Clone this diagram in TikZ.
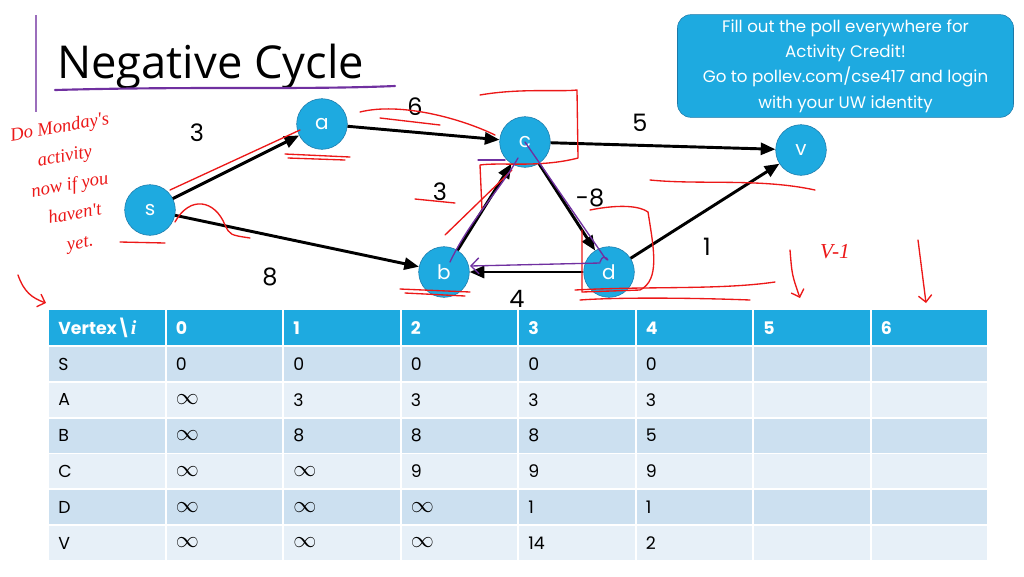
\documentclass[tikz,border=0pt]{standalone}
\usepackage{amsmath}
\usepackage{fontspec}
\setmainfont{Poppins}
\newfontfamily\titlefont{Open Sans}
\newfontfamily\handfont{Liberation Serif}
\usetikzlibrary{arrows.meta}
\definecolor{slideblue}{RGB}{30,170,224}
\definecolor{nodeedge}{RGB}{28,120,168}
\definecolor{rowdark}{RGB}{204,224,240}
\definecolor{rowlight}{RGB}{231,240,248}
\definecolor{inkpurple}{RGB}{112,48,160}
\definecolor{inkred}{RGB}{236,24,24}
\newcommand{\infsym}{{\fontsize{17}{13}\selectfont$\infty$}}

\begin{document}
\begin{tikzpicture}[x=0.75pt,y=-0.75pt,
		vertex/.style = {
			circle, draw=nodeedge, fill=slideblue,
			minimum size=38pt, inner sep=0pt,
			text=white, font=\fontsize{15}{15}\selectfont},
		edge/.style = {line width=2.2pt, -{Triangle[length=11pt,width=9pt]}},
		weight/.style = {font=\fontsize{18}{18}\selectfont},
		cell/.style = {anchor=west, inner sep=0pt, font=\fontsize{13}{13}\selectfont},
		headcell/.style = {cell, text=white, font=\fontsize{13}{13}\selectfont\bfseries},
		ink/.style = {inkred, line width=1pt, line cap=round, line join=round},
		purpleink/.style = {inkpurple, line width=1pt, line cap=round, line join=round}]
		\useasboundingbox (0,0) rectangle (1024,576);
		\fill[white] (0,0) rectangle (1024,576);

		\draw[inkpurple!70, line width=1.4pt] (36,15) -- (36,112);
		\node[anchor=base west, inner sep=0pt, font=\titlefont\fontsize{34}{34}\selectfont] (title) at (57,78) {Negative Cycle};
		\draw[purpleink, line width=1.6pt] (55,90) .. controls (200,86) and (300,90) .. (395,86);

		\node[rounded corners=10pt, draw=nodeedge, fill=slideblue, text=white,
			minimum width=252pt, minimum height=77pt, align=center,
			font=\fontsize{12.5}{19}\selectfont] (poll) at (845.5,66)
			{Fill out the poll everywhere for\\Activity Credit!\\Go to pollev.com/cse417 and login\\with your UW identity};

		\node[vertex] (s) at (150,210) {s};
		\node[vertex] (a) at (322,124) {a};
		\node[vertex] (c) at (525,142) {c};
		\node[vertex] (v) at (801,150) {v};
		\node[vertex] (b) at (444,272) {b};
		\node[vertex] (d) at (609,272) {d};

		\draw[edge] (s) -- (a);
		\draw[edge] (a) -- (c);
		\draw[edge] (c) -- (v);
		\draw[edge] (s) -- (b);
		\draw[edge] (b) -- (c);
		\draw[edge] (c) -- (d);
		\draw[edge] (d) -- (v);
		\draw[edge] (d) -- (b);

		\node[weight] (w-sa) at (197,133) {3};
		\node[weight] (w-ac) at (415,107) {6};
		\node[weight] (w-cv) at (640,123) {5};
		\node[weight] (w-sb) at (270,277) {8};
		\node[weight] (w-bc) at (440,192) {3};
		\node[weight] (w-cd) at (590,198) {-8};
		\node[weight] (w-dv) at (707,247) {1};
		\node[weight] (w-db) at (517,299) {4};

		\foreach \c [count=\i from 0] in {Vertex\textbackslash{\handfont\itshape\bfseries\fontsize{15}{13}\selectfont i},0,1,2,3,4,5,6} {
			\fill[slideblue] (48+\i*117.5+1,310) rectangle (48+\i*117.5+116.5,345);
			\node[headcell] (head-\i) at (48+\i*117.5+10,328) {\c};
		}
		\foreach \vals [count=\r] in {{S,0,0,0,0,0},{A,\infsym,3,3,3,3},{B,\infsym,8,8,8,5},
				{C,\infsym,\infsym,9,9,9},{D,\infsym,\infsym,\infsym,1,1},{V,\infsym,\infsym,\infsym,14,2}} {
			\pgfmathsetmacro{\rowtop}{346+(\r-1)*35.8}
			\pgfmathtruncatemacro{\odd}{mod(\r,2)}
			\foreach \i in {0,...,7} {
				\ifnum\odd=1
					\fill[rowdark] (48+\i*117.5+1,\rowtop+1) rectangle (48+\i*117.5+116.5,\rowtop+35);
				\else
					\fill[rowlight] (48+\i*117.5+1,\rowtop+1) rectangle (48+\i*117.5+116.5,\rowtop+35);
				\fi
			}
			\foreach \t [count=\i from 0] in \vals {
				\node[cell] (cell-\r-\i) at (48+\i*117.5+10,\rowtop+18) {\t};
			}
		}

		\node[inkred, rotate=10, align=center, font=\handfont\itshape\fontsize{14}{22}\selectfont] (note) at (70,186)
			{Do Monday's\\activity\\now if you\\haven't\\yet.};
		\node[inkred, font=\handfont\itshape\fontsize{16}{16}\selectfont] (vnote) at (835,252) {V-1};

		\draw[ink, -{Straight Barb[length=5pt]}] (18,275) .. controls (24,292) and (32,298) .. (46,303);
		\draw[ink, -{Straight Barb[length=5pt]}] (790,250) .. controls (792,275) .. (800,298);
		\draw[ink, -{Straight Barb[length=5pt]}] (918,240) .. controls (922,270) .. (926,303);
		\draw[ink] (480,95) .. controls (520,88) and (560,92) .. (577,90) -- (578,158)
			.. controls (540,168) and (500,162) .. (480,165) -- (482,210);
		\draw[ink] (590,210) .. controls (620,204) and (640,206) .. (648,212)
			.. controls (654,250) and (660,280) .. (640,290) -- (582,292) -- (582,230);
		\draw[ink] (575,290) .. controls (650,286) and (720,290) .. (775,282);
		\draw[ink] (580,300) .. controls (620,297) and (700,298) .. (750,300);
		\draw[ink] (170,190) -- (300,130);
		\draw[ink] (285,154) -- (350,157);
		\draw[ink] (288,158) -- (345,160);
		\draw[ink] (120,242) -- (165,243);
		\draw[ink] (400,289) -- (470,292);
		\draw[ink] (405,293) -- (465,296);
		\draw[ink] (415,199) -- (455,203);
		\draw[ink] (360,112) .. controls (400,102) and (460,118) .. (495,135);
		\draw[ink] (380,118) -- (440,125);
		\draw[ink] (175,222) .. controls (190,195) and (215,200) .. (225,225) .. controls (230,235) .. (250,238);
		\draw[ink] (445,235) -- (512,170);
		\draw[ink] (650,180) .. controls (700,185) and (760,178) .. (815,190);

		\draw[purpleink] (478,160) -- (505,160);
		\draw[purpleink] (525,142) -- (605,258) .. controls (612,265) and (604,250) .. (600,262);
		\draw[purpleink, -{Straight Barb[length=6pt]}] (600,263) -- (470,266);
		\draw[purpleink] (450,262) .. controls (470,220) and (500,190) .. (518,158);
	\end{tikzpicture}
\end{document}
